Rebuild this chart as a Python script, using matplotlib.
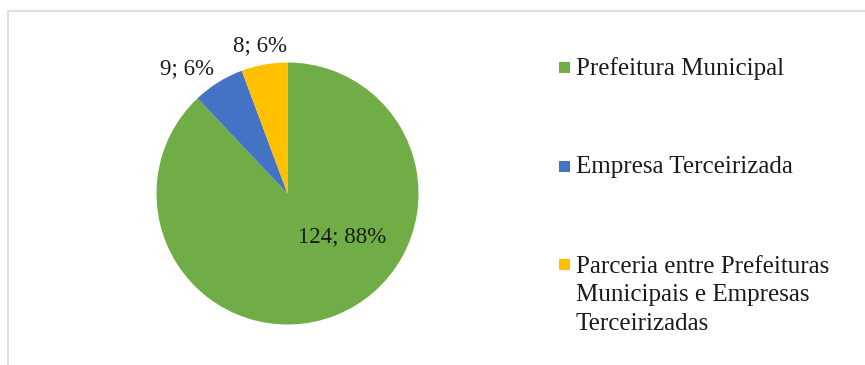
import matplotlib
matplotlib.use("Agg")
import matplotlib.pyplot as plt
from matplotlib.patches import Rectangle

# Data
categories = ["Prefeitura Municipal", "Empresa Terceirizada",
              "Parceria entre Prefeituras\nMunicipais e Empresas\nTerceirizadas"]
values = [124, 9, 8]
percents = [88, 6, 6]
colors = ["#70AD47", "#4472C4", "#FFC000"]

plt.rcParams["font.family"] = ["Liberation Serif", "DejaVu Serif"]

W, H = 865, 365
fig = plt.figure(figsize=(W / 100, H / 100), dpi=100)

# light gray chart frame (clipped at right/bottom in the reference)
fig.patches.append(Rectangle((8 / W, -0.2), 2.0, 354 / H + 0.2, transform=fig.transFigure,
                             fill=False, edgecolor="#d9d9d9", linewidth=1.2))

# pie axes: center (287.5, 193.5) px, radius 131 px
cx, cy, r = 287.5, 193.5, 131
ax = fig.add_axes([(cx - r) / W, (H - cy - r) / H, 2 * r / W, 2 * r / H])
ax.pie(values, colors=colors, startangle=90, counterclock=False, radius=1.0,
       wedgeprops=dict(linewidth=0))
ax.set_xlim(-1, 1)
ax.set_ylim(-1, 1)
ax.set_aspect("equal")
ax.axis("off")

# data labels (positions in radius units)
label_pos = [(0.416, -0.332), (-0.767, 0.950), (-0.21, 1.126)]
for v, p, (lx, ly) in zip(values, percents, label_pos):
    ax.text(lx, ly, f"{v}; {p}%", ha="center", va="center", fontsize=16.5, color="#1a1a1a")

# legend, drawn manually (marker centre y, first baseline y in px from top)
marker_y = [67, 166, 264]
baseline_y = [75, 173, 273]
line_step = 28.5
for lab, col, my, by in zip(categories, colors, marker_y, baseline_y):
    fig.patches.append(Rectangle((559 / W, (H - my - 5.5) / H), 11 / W, 11 / H,
                                 transform=fig.transFigure, facecolor=col, edgecolor="none"))
    for i, line in enumerate(lab.split("\n")):
        fig.text(576 / W, (H - by - i * line_step) / H, line, ha="left", va="baseline",
                 fontsize=18, color="#1a1a1a")

fig.savefig("out.png", dpi=100)
